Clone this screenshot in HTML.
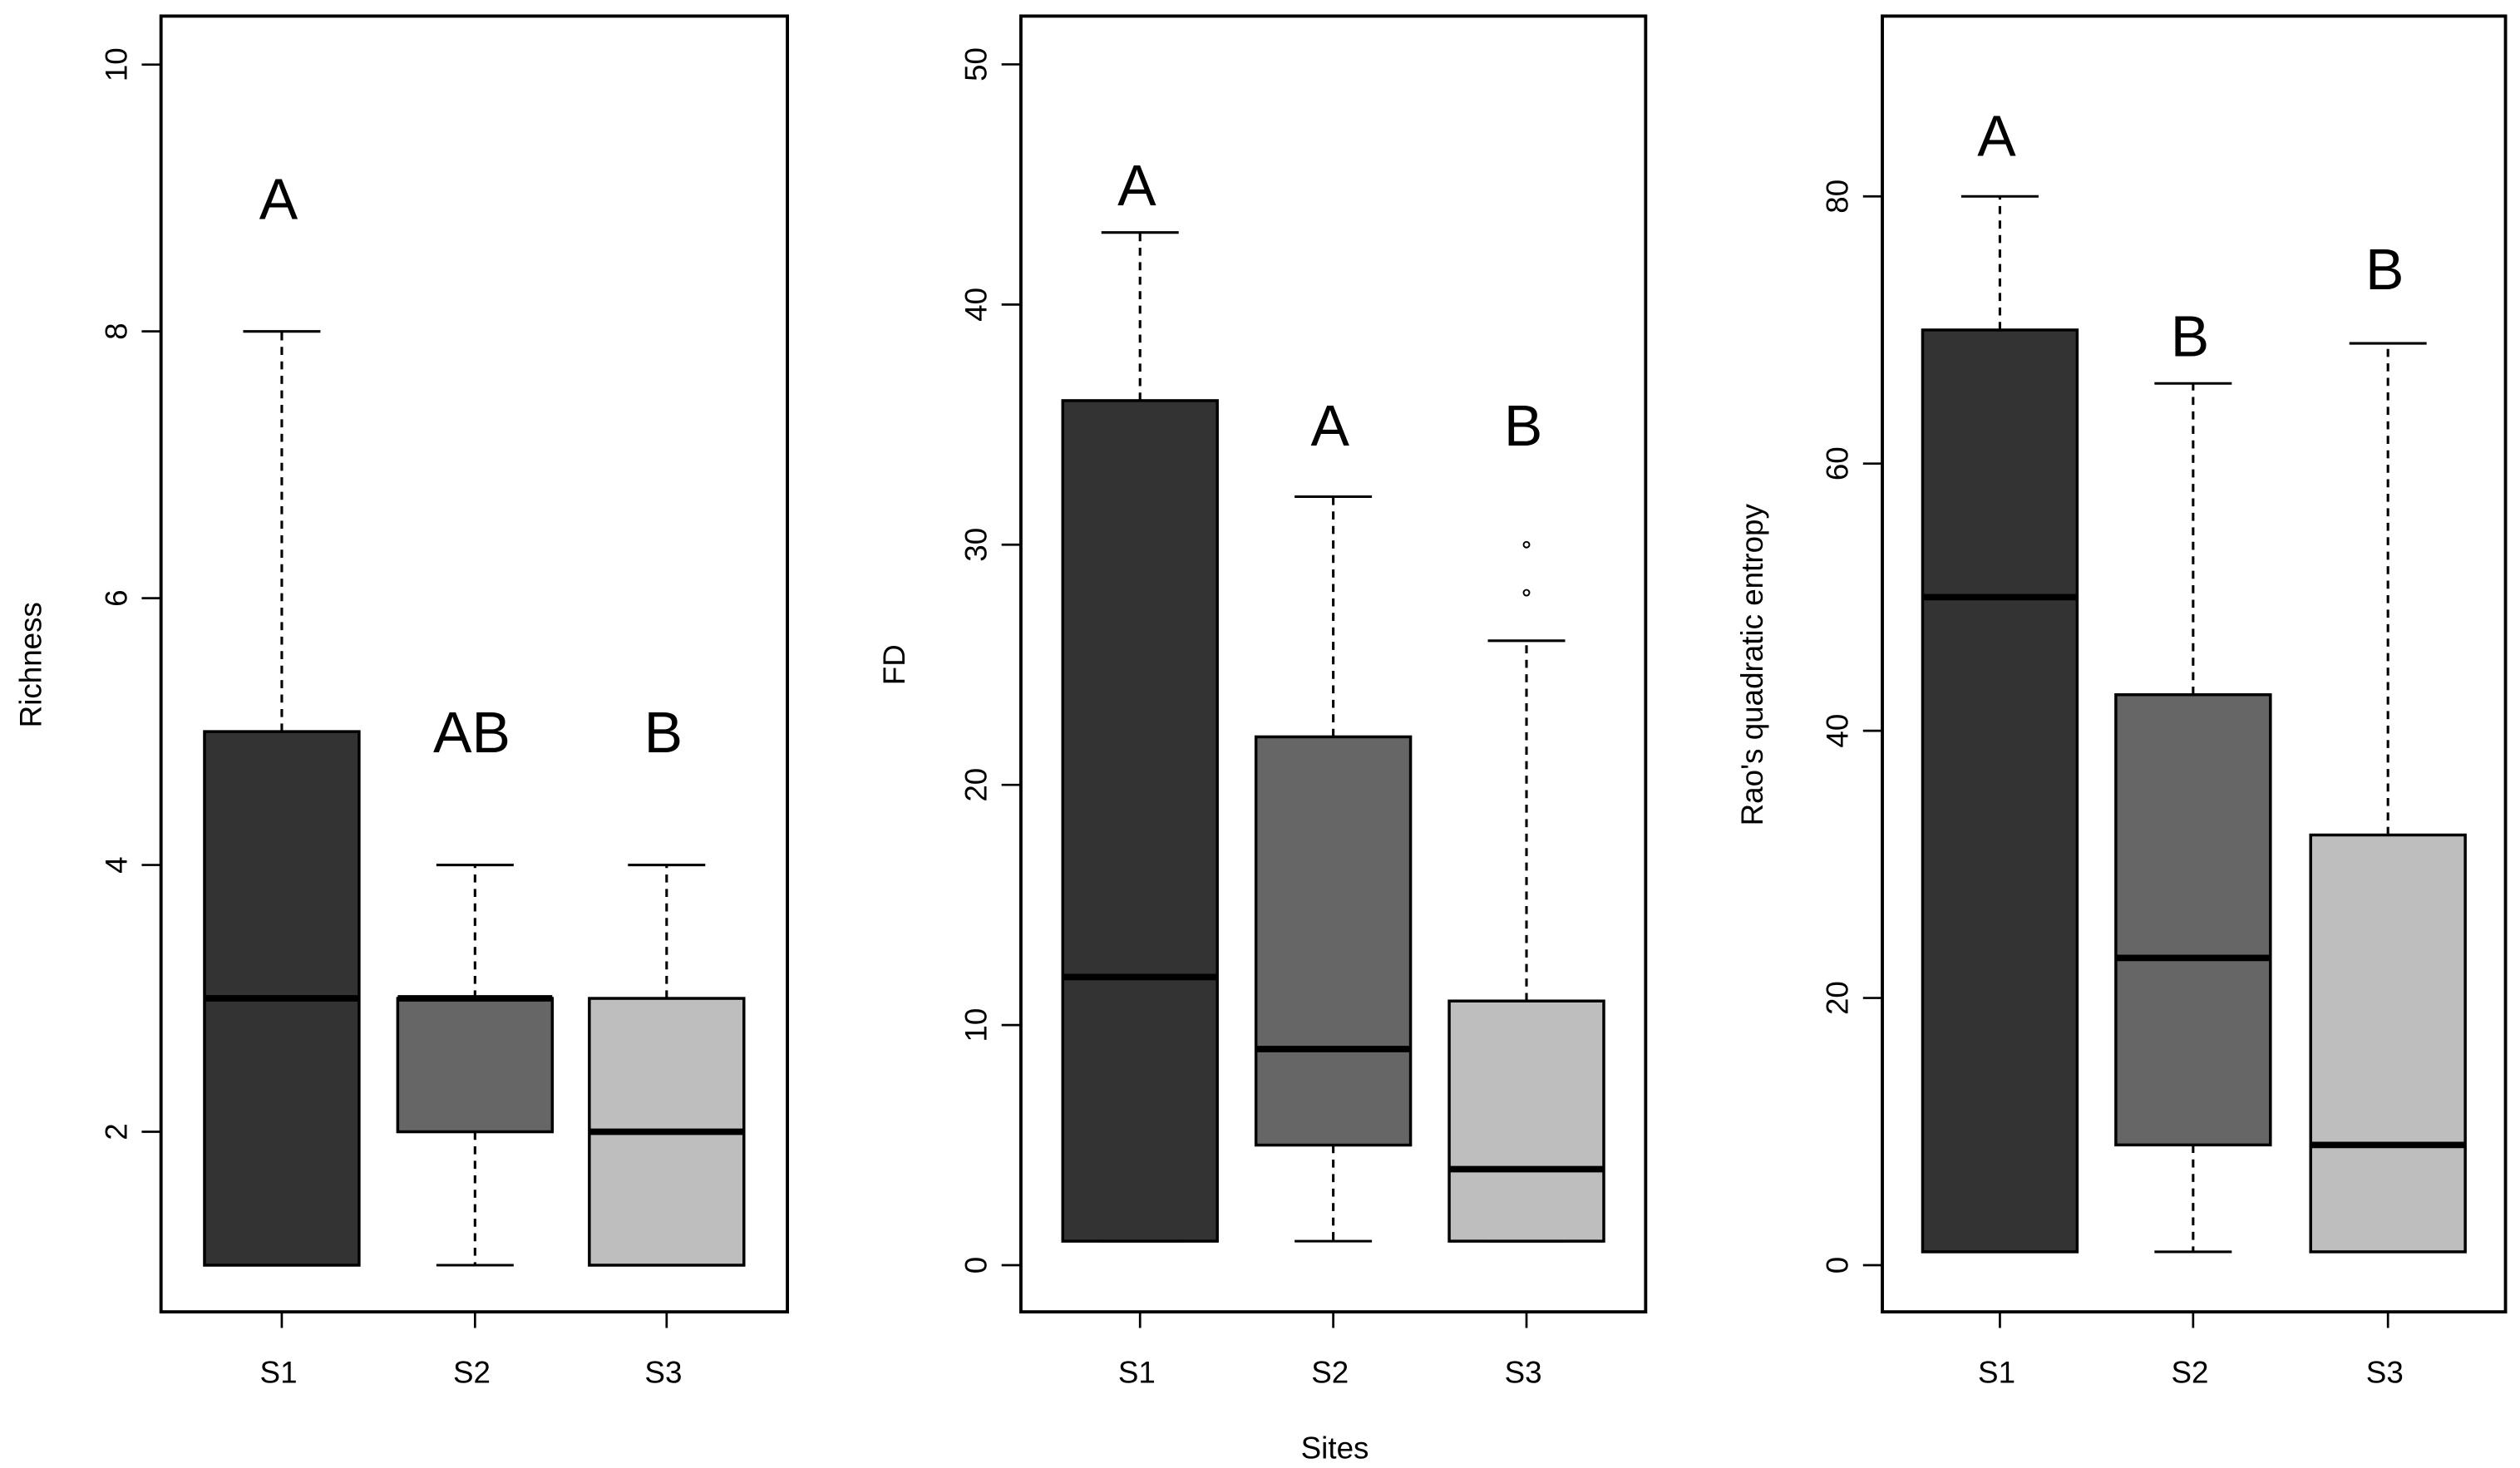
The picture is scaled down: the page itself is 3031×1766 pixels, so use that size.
<!DOCTYPE html>
<html><head><meta charset="utf-8"><style>
html,body{margin:0;padding:0;background:#fff}
svg{display:block}
text{font-family:"Liberation Sans",sans-serif;fill:#000}
</style></head><body>
<svg id="chart" width="3031" height="1766" viewBox="0 0 1565 912" preserveAspectRatio="none" xmlns="http://www.w3.org/2000/svg"></svg>
<script>
const categories = ["S1","S2","S3"];
const fills = ["#333333","#666666","#bebebe"];
// Panel 1: Richness  [min, q1, median, q3, max]
const richnessStats = [[1,1,3,5,8],[1,2,3,3,4],[1,1,2,3,4]];
const richnessLetters = ["A","AB","B"];
const richnessLetterY = [9,5,5];
const richnessTicks = [2,4,6,8,10];
// Panel 2: FD
const fdStats = [[1,1,12,36,43],[1,5,9,22,32],[1,1,4,11,26]];
const fdOutliers = [[],[],[28,30]];
const fdLetters = ["A","A","B"];
const fdLetterY = [45,35,35];
const fdTicks = [0,10,20,30,40,50];
// Panel 3: Rao
const raoStats = [[1,1,50,70,80],[1,9,23,42.7,66],[1,1,9,32.2,69]];
const raoLetters = ["A","B","B"];
const raoLetterY = [84.6,69.6,74.6];
const raoTicks = [0,20,40,60,80];

const NS="http://www.w3.org/2000/svg";
const svg=document.getElementById('chart');
function mk(tag,attrs,parent){const e=document.createElementNS(NS,tag);for(const k in attrs)e.setAttribute(k,attrs[k]);(parent||svg).appendChild(e);return e;}

const panels=[
 {name:'richness',left:100,right:489,stats:richnessStats,out:[[],[],[]],letters:richnessLetters,ly:richnessLetterY,ticks:richnessTicks,
  y:v=>786-(v-1)*82.875,centers:[175,295,414],label:'Richness',labelX:19},
 {name:'fd',left:634,right:1022,stats:fdStats,out:fdOutliers,letters:fdLetters,ly:fdLetterY,ticks:fdTicks,
  y:v=>786-v*14.92,centers:[708,828,948],label:'FD',labelX:555},
 {name:'rao',left:1169,right:1556,stats:raoStats,out:[[],[],[]],letters:raoLetters,ly:raoLetterY,ticks:raoTicks,
  y:v=>786-v*8.3,centers:[1242,1362,1483],label:"Rao's quadratic entropy",labelX:1088}
];
const plotTop=10,plotBottom=815,bw=96;

panels.forEach(p=>{
  const g=mk('g',{});
  
  
  p.stats.forEach((s,i)=>{
    const cx=p.centers[i];
    const bg=mk('g',{},g);
    
    
    const [mn,q1,md,q3,mx]=s;
    mk('line',{x1:cx,x2:cx,y1:p.y(q3),y2:p.y(mx),stroke:'#000','stroke-width':1.6,'stroke-dasharray':'5,4'},bg);
    mk('line',{x1:cx,x2:cx,y1:p.y(q1),y2:p.y(mn),stroke:'#000','stroke-width':1.6,'stroke-dasharray':'5,4'},bg);
    mk('line',{x1:cx-bw/4,x2:cx+bw/4,y1:p.y(mx),y2:p.y(mx),stroke:'#000','stroke-width':1.6},bg);
    mk('line',{x1:cx-bw/4,x2:cx+bw/4,y1:p.y(mn),y2:p.y(mn),stroke:'#000','stroke-width':1.6},bg);
    mk('rect',{x:cx-bw/2,y:p.y(q3),width:bw,height:p.y(q1)-p.y(q3),fill:fills[i],stroke:'#000','stroke-width':1.8},bg);
    mk('line',{x1:cx-bw/2,x2:cx+bw/2,y1:p.y(md),y2:p.y(md),stroke:'#000','stroke-width':4},bg);
    p.out[i].forEach(o=>{
      const c=mk('circle',{cx:cx,cy:p.y(o),r:1.8,fill:'none',stroke:'#000','stroke-width':1},bg);
      
      
    });
    const t=mk('text',{x:cx-2,y:p.y(p.ly[i]),'font-size':36,'text-anchor':'middle',dy:'0.36em'},g);
    t.textContent=p.letters[i];
    
    
    mk('line',{x1:cx,x2:cx,y1:plotBottom,y2:plotBottom+10,stroke:'#000','stroke-width':1.4},g);
    const xl=mk('text',{x:cx-2,y:859,'font-size':19,'text-anchor':'middle'},g);
    xl.textContent=categories[i];
    
    
  });
  p.ticks.forEach(tv=>{
    const ty=p.y(tv);
    mk('line',{x1:p.left-12,x2:p.left,y1:ty,y2:ty,stroke:'#000','stroke-width':1.4},g);
    const tl=mk('text',{x:p.left-28,y:ty,'font-size':19,'text-anchor':'middle',transform:`rotate(-90 ${p.left-28} ${ty})`,dy:'0.35em'},g);
    tl.textContent=tv;
    
    
  });
  const fr=mk('rect',{x:p.left,y:plotTop,width:p.right-p.left,height:plotBottom-plotTop,fill:'none',stroke:'#000','stroke-width':2},g);
  
  
  const yl=mk('text',{x:p.labelX,y:413,'font-size':19,'text-anchor':'middle',transform:`rotate(-90 ${p.labelX} 413)`,dy:'0.35em'},g);
  yl.textContent=p.label;
  
  
});
const st=mk('text',{x:829,y:906,'font-size':19,'text-anchor':'middle'});
st.textContent='Sites';


</script>
</body></html>
